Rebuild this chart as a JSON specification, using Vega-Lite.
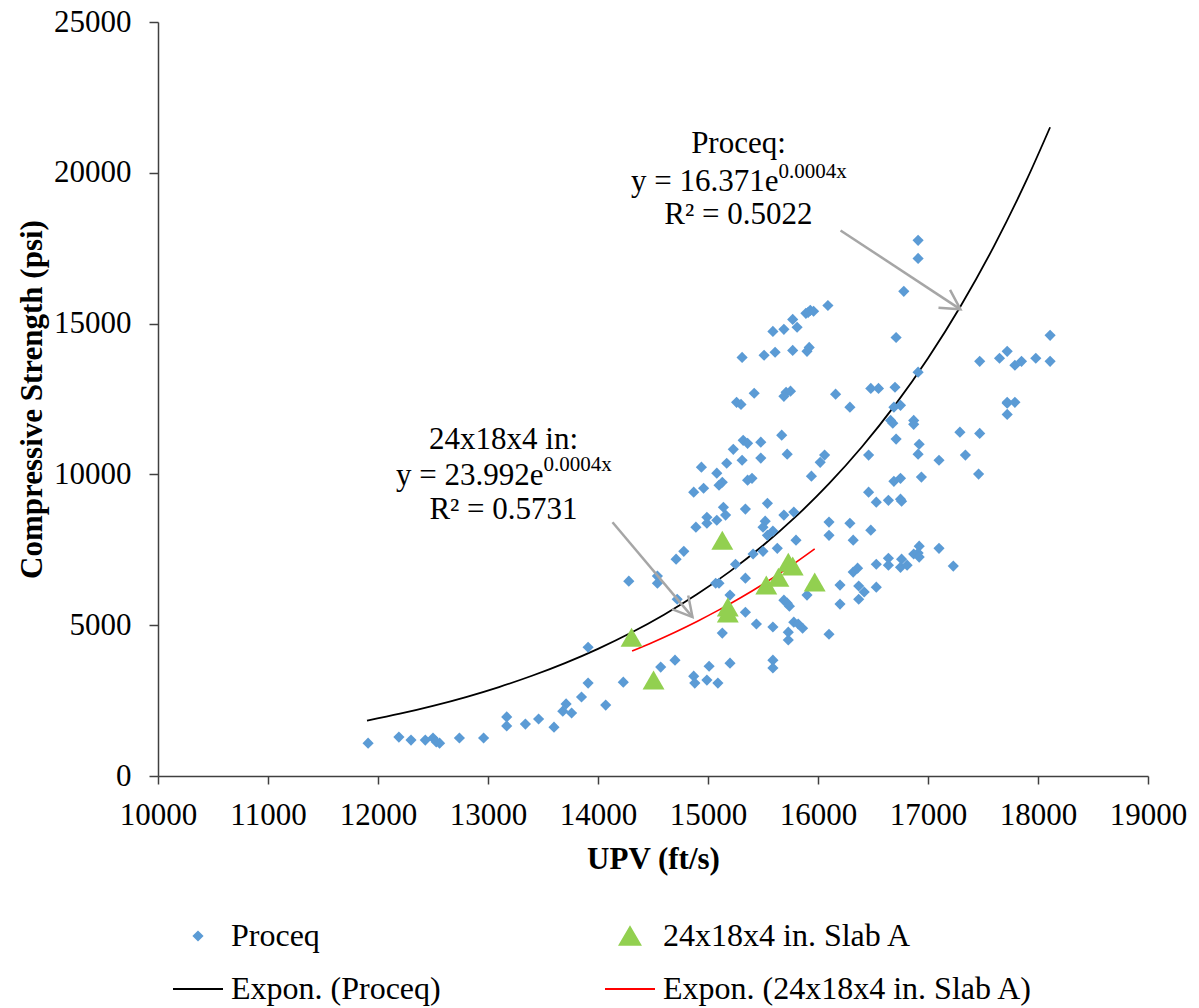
{
  "$schema": "https://vega.github.io/schema/vega-lite/v6.json",
  "width": 990,
  "height": 754,
  "autosize": {"type": "none"},
  "padding": {"left": 158, "top": 22, "right": 51, "bottom": 232},
  "config": {
    "view": {"stroke": null},
    "font": "Liberation Serif",
    "legend": {
      "orient": "none",
      "direction": "horizontal",
      "legendX": 14,
      "legendY": 888,
      "columns": 2,
      "columnPadding": 160,
      "rowPadding": 11,
      "labelFont": "Liberation Serif",
      "labelFontSize": 32,
      "labelColor": "#000000",
      "labelLimit": 700,
      "labelOffset": 7,
      "symbolOpacity": 1,
      "symbolStrokeWidth": 2,
      "symbolSize": 2500,
      "title": null
    }
  },
  "datasets": {
    "proceq": [
      {"x": 11910, "y": 1090}, {"x": 12190, "y": 1290}, {"x": 12300, "y": 1190}, {"x": 12430, "y": 1190},
      {"x": 12500, "y": 1260}, {"x": 12530, "y": 1130}, {"x": 12560, "y": 1090}, {"x": 12740, "y": 1260},
      {"x": 12960, "y": 1260}, {"x": 13170, "y": 1960}, {"x": 13170, "y": 1660}, {"x": 13340, "y": 1720},
      {"x": 13460, "y": 1890}, {"x": 13600, "y": 1620}, {"x": 13680, "y": 2150}, {"x": 13710, "y": 2390},
      {"x": 13760, "y": 2090}, {"x": 13850, "y": 2620}, {"x": 13910, "y": 3080}, {"x": 13910, "y": 4270},
      {"x": 14070, "y": 2350}, {"x": 14230, "y": 3110}, {"x": 14280, "y": 6460},
      {"x": 14870, "y": 3310}, {"x": 14880, "y": 3080}, {"x": 14990, "y": 3180}, {"x": 15090, "y": 3080},
      {"x": 15670, "y": 11300}, {"x": 15320, "y": 11130}, {"x": 15360, "y": 11030}, {"x": 15480, "y": 11070},
      {"x": 15230, "y": 10830}, {"x": 15720, "y": 10670}, {"x": 16060, "y": 10640}, {"x": 16020, "y": 10400},
      {"x": 15310, "y": 10470}, {"x": 15480, "y": 10540}, {"x": 15170, "y": 10370}, {"x": 14940, "y": 10240},
      {"x": 15080, "y": 10040}, {"x": 15940, "y": 9940}, {"x": 15360, "y": 9810}, {"x": 15400, "y": 9870},
      {"x": 15130, "y": 9740}, {"x": 15100, "y": 9640}, {"x": 14870, "y": 9410}, {"x": 14960, "y": 9540},
      {"x": 15540, "y": 9040}, {"x": 15340, "y": 8850}, {"x": 15140, "y": 8910}, {"x": 15160, "y": 8650},
      {"x": 15780, "y": 8750}, {"x": 15690, "y": 8650}, {"x": 14990, "y": 8580}, {"x": 14990, "y": 8380},
      {"x": 15080, "y": 8480}, {"x": 14890, "y": 8250}, {"x": 15520, "y": 8450}, {"x": 15500, "y": 8250},
      {"x": 15590, "y": 8120}, {"x": 15540, "y": 7980}, {"x": 15800, "y": 7820}, {"x": 16100, "y": 8420},
      {"x": 16100, "y": 7980}, {"x": 16290, "y": 8380}, {"x": 16320, "y": 7820}, {"x": 16480, "y": 8150},
      {"x": 16460, "y": 9410}, {"x": 16460, "y": 10640}, {"x": 15630, "y": 7550}, {"x": 15500, "y": 7450},
      {"x": 15410, "y": 7360}, {"x": 14780, "y": 7450}, {"x": 14710, "y": 7190}, {"x": 15250, "y": 7020},
      {"x": 15340, "y": 6560}, {"x": 14540, "y": 6630}, {"x": 14540, "y": 6390}, {"x": 15070, "y": 6390},
      {"x": 15100, "y": 6390}, {"x": 14720, "y": 5860}, {"x": 15200, "y": 6000}, {"x": 15690, "y": 5830},
      {"x": 15720, "y": 5730}, {"x": 15740, "y": 5630}, {"x": 15900, "y": 6000}, {"x": 16200, "y": 6330},
      {"x": 16370, "y": 6300}, {"x": 16320, "y": 6760}, {"x": 16360, "y": 6890}, {"x": 16420, "y": 6100},
      {"x": 16370, "y": 5860}, {"x": 16200, "y": 5700}, {"x": 15340, "y": 5430}, {"x": 15440, "y": 5040},
      {"x": 15590, "y": 4940}, {"x": 15780, "y": 5100}, {"x": 15820, "y": 5040}, {"x": 15860, "y": 4900},
      {"x": 15730, "y": 4770}, {"x": 15730, "y": 4510}, {"x": 16100, "y": 4700}, {"x": 15130, "y": 4740},
      {"x": 14700, "y": 3840}, {"x": 14570, "y": 3610}, {"x": 15010, "y": 3640}, {"x": 15200, "y": 3740},
      {"x": 15590, "y": 3840}, {"x": 15590, "y": 3580},
      {"x": 16090, "y": 15600}, {"x": 15890, "y": 15340}, {"x": 15930, "y": 15440}, {"x": 15910, "y": 15370},
      {"x": 15960, "y": 15410}, {"x": 15770, "y": 15140}, {"x": 15810, "y": 14880}, {"x": 15690, "y": 14810},
      {"x": 15590, "y": 14740}, {"x": 15310, "y": 13880}, {"x": 15510, "y": 13950}, {"x": 15610, "y": 14050},
      {"x": 15770, "y": 14110}, {"x": 15900, "y": 14080}, {"x": 15920, "y": 14210}, {"x": 15260, "y": 12390},
      {"x": 15300, "y": 12320}, {"x": 15420, "y": 12690}, {"x": 15690, "y": 12590}, {"x": 15710, "y": 12720},
      {"x": 15750, "y": 12760}, {"x": 16160, "y": 12660}, {"x": 16290, "y": 12230}, {"x": 16480, "y": 12850},
      {"x": 16910, "y": 17760}, {"x": 16910, "y": 17160}, {"x": 16780, "y": 16070}, {"x": 16710, "y": 14540},
      {"x": 18110, "y": 14610}, {"x": 17470, "y": 13750}, {"x": 17650, "y": 13850}, {"x": 17720, "y": 14080},
      {"x": 17790, "y": 13620}, {"x": 17850, "y": 13750}, {"x": 17980, "y": 13850}, {"x": 18110, "y": 13750},
      {"x": 16910, "y": 13390}, {"x": 16550, "y": 12850}, {"x": 16700, "y": 12890}, {"x": 16690, "y": 12230},
      {"x": 16750, "y": 12290}, {"x": 17720, "y": 12390}, {"x": 17720, "y": 12360}, {"x": 17790, "y": 12390},
      {"x": 17720, "y": 11990}, {"x": 16660, "y": 11790}, {"x": 16680, "y": 11700}, {"x": 16870, "y": 11790},
      {"x": 16870, "y": 11660},
      {"x": 17290, "y": 11400}, {"x": 17470, "y": 11360}, {"x": 16710, "y": 11170}, {"x": 16920, "y": 11000},
      {"x": 16910, "y": 10670}, {"x": 17340, "y": 10640}, {"x": 17100, "y": 10470}, {"x": 17460, "y": 10010},
      {"x": 16690, "y": 9770}, {"x": 16750, "y": 9870}, {"x": 16940, "y": 9910}, {"x": 16530, "y": 9080},
      {"x": 16640, "y": 9140}, {"x": 16750, "y": 9180}, {"x": 16760, "y": 9110}, {"x": 16920, "y": 7620},
      {"x": 16870, "y": 7360}, {"x": 16910, "y": 7390}, {"x": 16920, "y": 7260}, {"x": 17100, "y": 7550},
      {"x": 16640, "y": 7220}, {"x": 16640, "y": 6990}, {"x": 16760, "y": 7190}, {"x": 16750, "y": 6920},
      {"x": 16810, "y": 6990}, {"x": 16530, "y": 7020}, {"x": 17230, "y": 6960}, {"x": 16530, "y": 6260}
    ],
    "slab": [
      {"x": 14305, "y": 4600}, {"x": 14505, "y": 3180}, {"x": 15130, "y": 7820}, {"x": 15180, "y": 5600},
      {"x": 15180, "y": 5400}, {"x": 15530, "y": 6330}, {"x": 15640, "y": 6590}, {"x": 15730, "y": 7090},
      {"x": 15770, "y": 6960}, {"x": 15970, "y": 6430}
    ],
    "fitP": [
      {"x": 11900, "y": 1833}, {"x": 12200, "y": 2065}, {"x": 12500, "y": 2326}, {"x": 12800, "y": 2619},
      {"x": 13100, "y": 2950}, {"x": 13400, "y": 3323}, {"x": 13700, "y": 3743}, {"x": 14000, "y": 4216},
      {"x": 14300, "y": 4748}, {"x": 14600, "y": 5348}, {"x": 14900, "y": 6023}, {"x": 15200, "y": 6784},
      {"x": 15500, "y": 7641}, {"x": 15800, "y": 8606}, {"x": 16100, "y": 9693}, {"x": 16400, "y": 10917},
      {"x": 16700, "y": 12296}, {"x": 17000, "y": 13851}, {"x": 17300, "y": 15600}, {"x": 17600, "y": 17569},
      {"x": 17900, "y": 19788}, {"x": 18110, "y": 21510}
    ],
    "fitS": [
      {"x": 14310, "y": 4144}, {"x": 14500, "y": 4437}, {"x": 14700, "y": 4768}, {"x": 14900, "y": 5124},
      {"x": 15100, "y": 5507}, {"x": 15300, "y": 5918}, {"x": 15500, "y": 6359}, {"x": 15700, "y": 6834},
      {"x": 15970, "y": 7532}
    ],
    "notes": [
      {"part": "c", "x": 15277, "y": 20971, "label": "Proceq:"},
      {"part": "c", "x": 15277, "y": 18586, "label": "R² = 0.5022"},
      {"part": "r", "x": 15641, "y": 19679, "label": "y = 16.371e"},
      {"part": "s", "x": 15641, "y": 20040, "label": "0.0004x"},
      {"part": "c", "x": 13141, "y": 11132, "label": "24x18x4 in:"},
      {"part": "c", "x": 13141, "y": 8813, "label": "R² = 0.5731"},
      {"part": "r", "x": 13505, "y": 9939, "label": "y = 23.992e"},
      {"part": "s", "x": 13505, "y": 10300, "label": "0.0004x"}
    ],
    "arrows": [
      {"id": "a", "x": 14132, "y": 8415, "x2": 14859, "y2": 5268},
      {"id": "b", "x": 16205, "y": 18089, "x2": 17295, "y2": 15472}
    ]
  },
  "layer": [
    {
      "data": {"name": "fitP"},
      "transform": [{"calculate": "'Expon. (Proceq)'", "as": "series"}],
      "mark": {"type": "line", "strokeWidth": 1.8, "interpolate": "monotone"},
      "encoding": {
        "x": {"field": "x", "type": "quantitative", "scale": {"domain": [10000, 19000], "nice": false, "zero": false},
          "axis": {"values": [10000, 11000, 12000, 13000, 14000, 15000, 16000, 17000, 18000, 19000], "format": "d", "grid": false,
            "domainColor": "#404040", "domainWidth": 1.5, "tickColor": "#404040", "tickWidth": 1.5, "tickSize": 8,
            "labelFont": "Liberation Serif", "labelFontSize": 31, "labelColor": "#000000", "labelPadding": 16, "labelFlush": false, "labelOverlap": false,
            "title": "UPV (ft/s)", "titleFont": "Liberation Serif", "titleFontSize": 31, "titleFontWeight": "bold", "titleColor": "#000000", "titlePadding": 14}},
        "y": {"field": "y", "type": "quantitative", "scale": {"domain": [0, 25000], "nice": false},
          "axis": {"values": [0, 5000, 10000, 15000, 20000, 25000], "format": "d", "grid": false,
            "domainColor": "#404040", "domainWidth": 1.5, "tickColor": "#404040", "tickWidth": 1.5, "tickSize": 9,
            "labelFont": "Liberation Serif", "labelFontSize": 31, "labelColor": "#000000", "labelPadding": 18, "labelFlush": false, "labelOverlap": false,
            "title": "Compressive Strength (psi)", "titleFont": "Liberation Serif", "titleFontSize": 31, "titleFontWeight": "bold", "titleColor": "#000000", "titlePadding": 5}},
        "color": {"field": "series", "type": "nominal",
          "scale": {"domain": ["Proceq", "24x18x4 in. Slab A", "Expon. (Proceq)", "Expon. (24x18x4 in. Slab A)"], "range": ["#5b9bd5", "#92d050", "#000000", "#ff0000"]},
          "legend": {"encode": {"symbols": {"update": {
            "stroke": {"scale": "color", "field": "value"},
            "size": {"signal": "datum.value === 'Proceq' ? 70 : datum.value === '24x18x4 in. Slab A' ? 420 : 2500"}}}}}}
      }
    },
    {
      "data": {"name": "fitS"},
      "transform": [{"calculate": "'Expon. (24x18x4 in. Slab A)'", "as": "series"}],
      "mark": {"type": "line", "strokeWidth": 1.6, "interpolate": "monotone"},
      "encoding": {
        "x": {"field": "x", "type": "quantitative"},
        "y": {"field": "y", "type": "quantitative"},
        "color": {"field": "series", "type": "nominal"}
      }
    },
    {
      "data": {"name": "proceq"},
      "transform": [{"calculate": "'Proceq'", "as": "series"}],
      "mark": {"type": "point", "filled": true, "opacity": 1, "size": 125},
      "encoding": {
        "x": {"field": "x", "type": "quantitative"},
        "y": {"field": "y", "type": "quantitative"},
        "color": {"field": "series", "type": "nominal"},
        "shape": {"field": "series", "type": "nominal",
          "scale": {"domain": ["Proceq", "24x18x4 in. Slab A", "Expon. (Proceq)", "Expon. (24x18x4 in. Slab A)"], "range": ["diamond", "triangle-up", "stroke", "stroke"]},
          "legend": {"encode": {"symbols": {"update": {
            "stroke": {"scale": "color", "field": "value"},
            "size": {"signal": "datum.value === 'Proceq' ? 70 : datum.value === '24x18x4 in. Slab A' ? 420 : 2500"}}}}}}
      }
    },
    {
      "data": {"name": "slab"},
      "transform": [{"calculate": "'24x18x4 in. Slab A'", "as": "series"}],
      "mark": {"type": "point", "filled": true, "opacity": 1, "size": 480},
      "encoding": {
        "x": {"field": "x", "type": "quantitative"},
        "y": {"field": "y", "type": "quantitative"},
        "color": {"field": "series", "type": "nominal"},
        "shape": {"field": "series", "type": "nominal"}
      }
    },
    {
      "data": {"name": "arrows"},
      "mark": {"type": "rule", "color": "#a6a6a6", "strokeWidth": 2.5},
      "encoding": {
        "x": {"field": "x", "type": "quantitative"},
        "y": {"field": "y", "type": "quantitative"},
        "x2": {"field": "x2"},
        "y2": {"field": "y2"}
      }
    },
    {
      "data": {"name": "arrows"},
      "transform": [{"filter": "datum.id === 'a'"}],
      "mark": {"type": "point", "shape": "M -1 -0.55 L 0 0 L -1 0.55", "filled": false, "stroke": "#a6a6a6", "strokeWidth": 2.5, "size": 1490, "angle": 50, "opacity": 1},
      "encoding": {
        "x": {"field": "x2", "type": "quantitative"},
        "y": {"field": "y2", "type": "quantitative"}
      }
    },
    {
      "data": {"name": "arrows"},
      "transform": [{"filter": "datum.id === 'b'"}],
      "mark": {"type": "point", "shape": "M -1 -0.55 L 0 0 L -1 0.55", "filled": false, "stroke": "#a6a6a6", "strokeWidth": 2.5, "size": 1490, "angle": 33, "opacity": 1},
      "encoding": {
        "x": {"field": "x2", "type": "quantitative"},
        "y": {"field": "y2", "type": "quantitative"}
      }
    },
    {
      "data": {"name": "notes"},
      "transform": [{"filter": "datum.part === 'c'"}],
      "mark": {"type": "text", "font": "Liberation Serif", "fontSize": 31, "color": "#000000", "align": "center", "baseline": "middle"},
      "encoding": {
        "x": {"field": "x", "type": "quantitative"},
        "y": {"field": "y", "type": "quantitative"},
        "text": {"field": "label"}
      }
    },
    {
      "data": {"name": "notes"},
      "transform": [{"filter": "datum.part === 'r'"}],
      "mark": {"type": "text", "font": "Liberation Serif", "fontSize": 31, "color": "#000000", "align": "right", "baseline": "middle"},
      "encoding": {
        "x": {"field": "x", "type": "quantitative"},
        "y": {"field": "y", "type": "quantitative"},
        "text": {"field": "label"}
      }
    },
    {
      "data": {"name": "notes"},
      "transform": [{"filter": "datum.part === 's'"}],
      "mark": {"type": "text", "font": "Liberation Serif", "fontSize": 21, "color": "#000000", "align": "left", "baseline": "middle"},
      "encoding": {
        "x": {"field": "x", "type": "quantitative"},
        "y": {"field": "y", "type": "quantitative"},
        "text": {"field": "label"}
      }
    }
  ]
}
